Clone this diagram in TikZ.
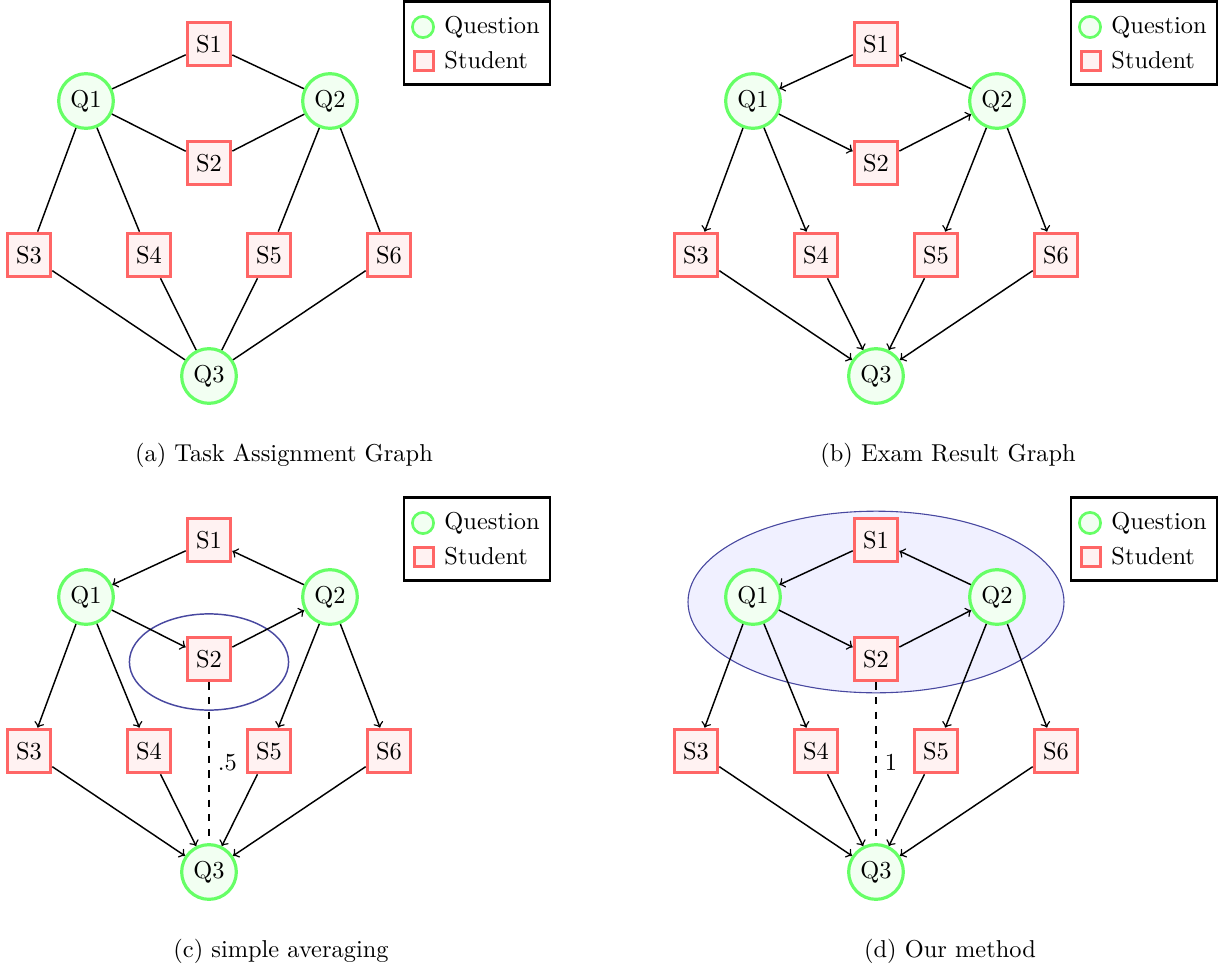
\documentclass[tikz,border=0pt]{standalone}
\usepackage{amsmath}
\usepackage{tikz}
\usepackage{xcolor}
\usetikzlibrary{arrows}
\definecolor{ellblue}{RGB}{72,72,160}
\tikzset{
  question/.style={circle, draw=green!60, fill=green!5, line width=1.3pt, minimum size=22.4pt, inner sep=0pt},
  student/.style={rectangle, draw=red!60, fill=red!5, line width=1.3pt, minimum size=17.8pt, inner sep=0pt},
  edge/.style={line width=0.6pt},
  legendbox/.style={rectangle, draw, line width=0.9pt, minimum width=60pt, minimum height=34pt, inner sep=0pt},
  legendtext/.style={anchor=base west, inner sep=0pt}
}

\begin{document}
\begin{tikzpicture}[x=0.4096pt,y=-0.4096pt]
    \useasboundingbox (0,0) rectangle (1218,967);
    \draw[ellblue, line width=0.6pt] (209,662) ellipse [x radius=32.6pt, y radius=19.7pt];
    \draw[ellblue, line width=0.45pt, fill=blue!6] (876,602) ellipse [x radius=77pt, y radius=37.2pt];
    \foreach \p/\dx/\dy/\tip in {a/0/0/-, b/667/0/->, c/0/496/->, d/667/496/->}{
    \begin{scope}[shift={(\dx,\dy)}]
    \node[student] (\p-S1) at (209,44) {S1};
    \node[question] (\p-Q1) at (86,101) {Q1};
    \node[question] (\p-Q2) at (330,101) {Q2};
    \node[student] (\p-S2) at (209,163) {S2};
    \node[student] (\p-S3) at (29,255) {S3};
    \node[student] (\p-S4) at (149,255) {S4};
    \node[student] (\p-S5) at (269,255) {S5};
    \node[student] (\p-S6) at (389,255) {S6};
    \node[question] (\p-Q3) at (209,376) {Q3};
    \draw[edge,\tip] (\p-S1) -- (\p-Q1);
    \draw[edge,\tip] (\p-Q2) -- (\p-S1);
    \draw[edge,\tip] (\p-Q1) -- (\p-S2);
    \draw[edge,\tip] (\p-S2) -- (\p-Q2);
    \draw[edge,\tip] (\p-Q1) -- (\p-S3);
    \draw[edge,\tip] (\p-Q1) -- (\p-S4);
    \draw[edge,\tip] (\p-Q2) -- (\p-S5);
    \draw[edge,\tip] (\p-Q2) -- (\p-S6);
    \draw[edge,\tip] (\p-S3) -- (\p-Q3);
    \draw[edge,\tip] (\p-S4) -- (\p-Q3);
    \draw[edge,\tip] (\p-S5) -- (\p-Q3);
    \draw[edge,\tip] (\p-S6) -- (\p-Q3);
    \node[legendbox] (\p-legend) at (477,43) {};
    \node[question, minimum size=8.7pt, line width=1.1pt] (\p-lq) at (423,27) {};
    \node[student, minimum size=7.9pt, line width=1.1pt] (\p-ls) at (424,61) {};
    \node[legendtext] (\p-tq) at (444,33) {Question};
    \node[legendtext] (\p-ts) at (444,68) {Student};
    \end{scope}
    }
    \draw[edge, dashed] (c-S2) -- node[right] (c-w) {.5} (c-Q3);
    \draw[edge, dashed] (d-S2) -- node[right] (d-w) {1} (d-Q3);
    \node (cap-a) at (284,455) {(a) Task Assignment Graph};
    \node (cap-b) at (948,455) {(b) Exam Result Graph};
    \node (cap-c) at (281,951) {(c) simple averaging};
    \node (cap-d) at (950,951) {(d) Our method};
\end{tikzpicture}
\end{document}
